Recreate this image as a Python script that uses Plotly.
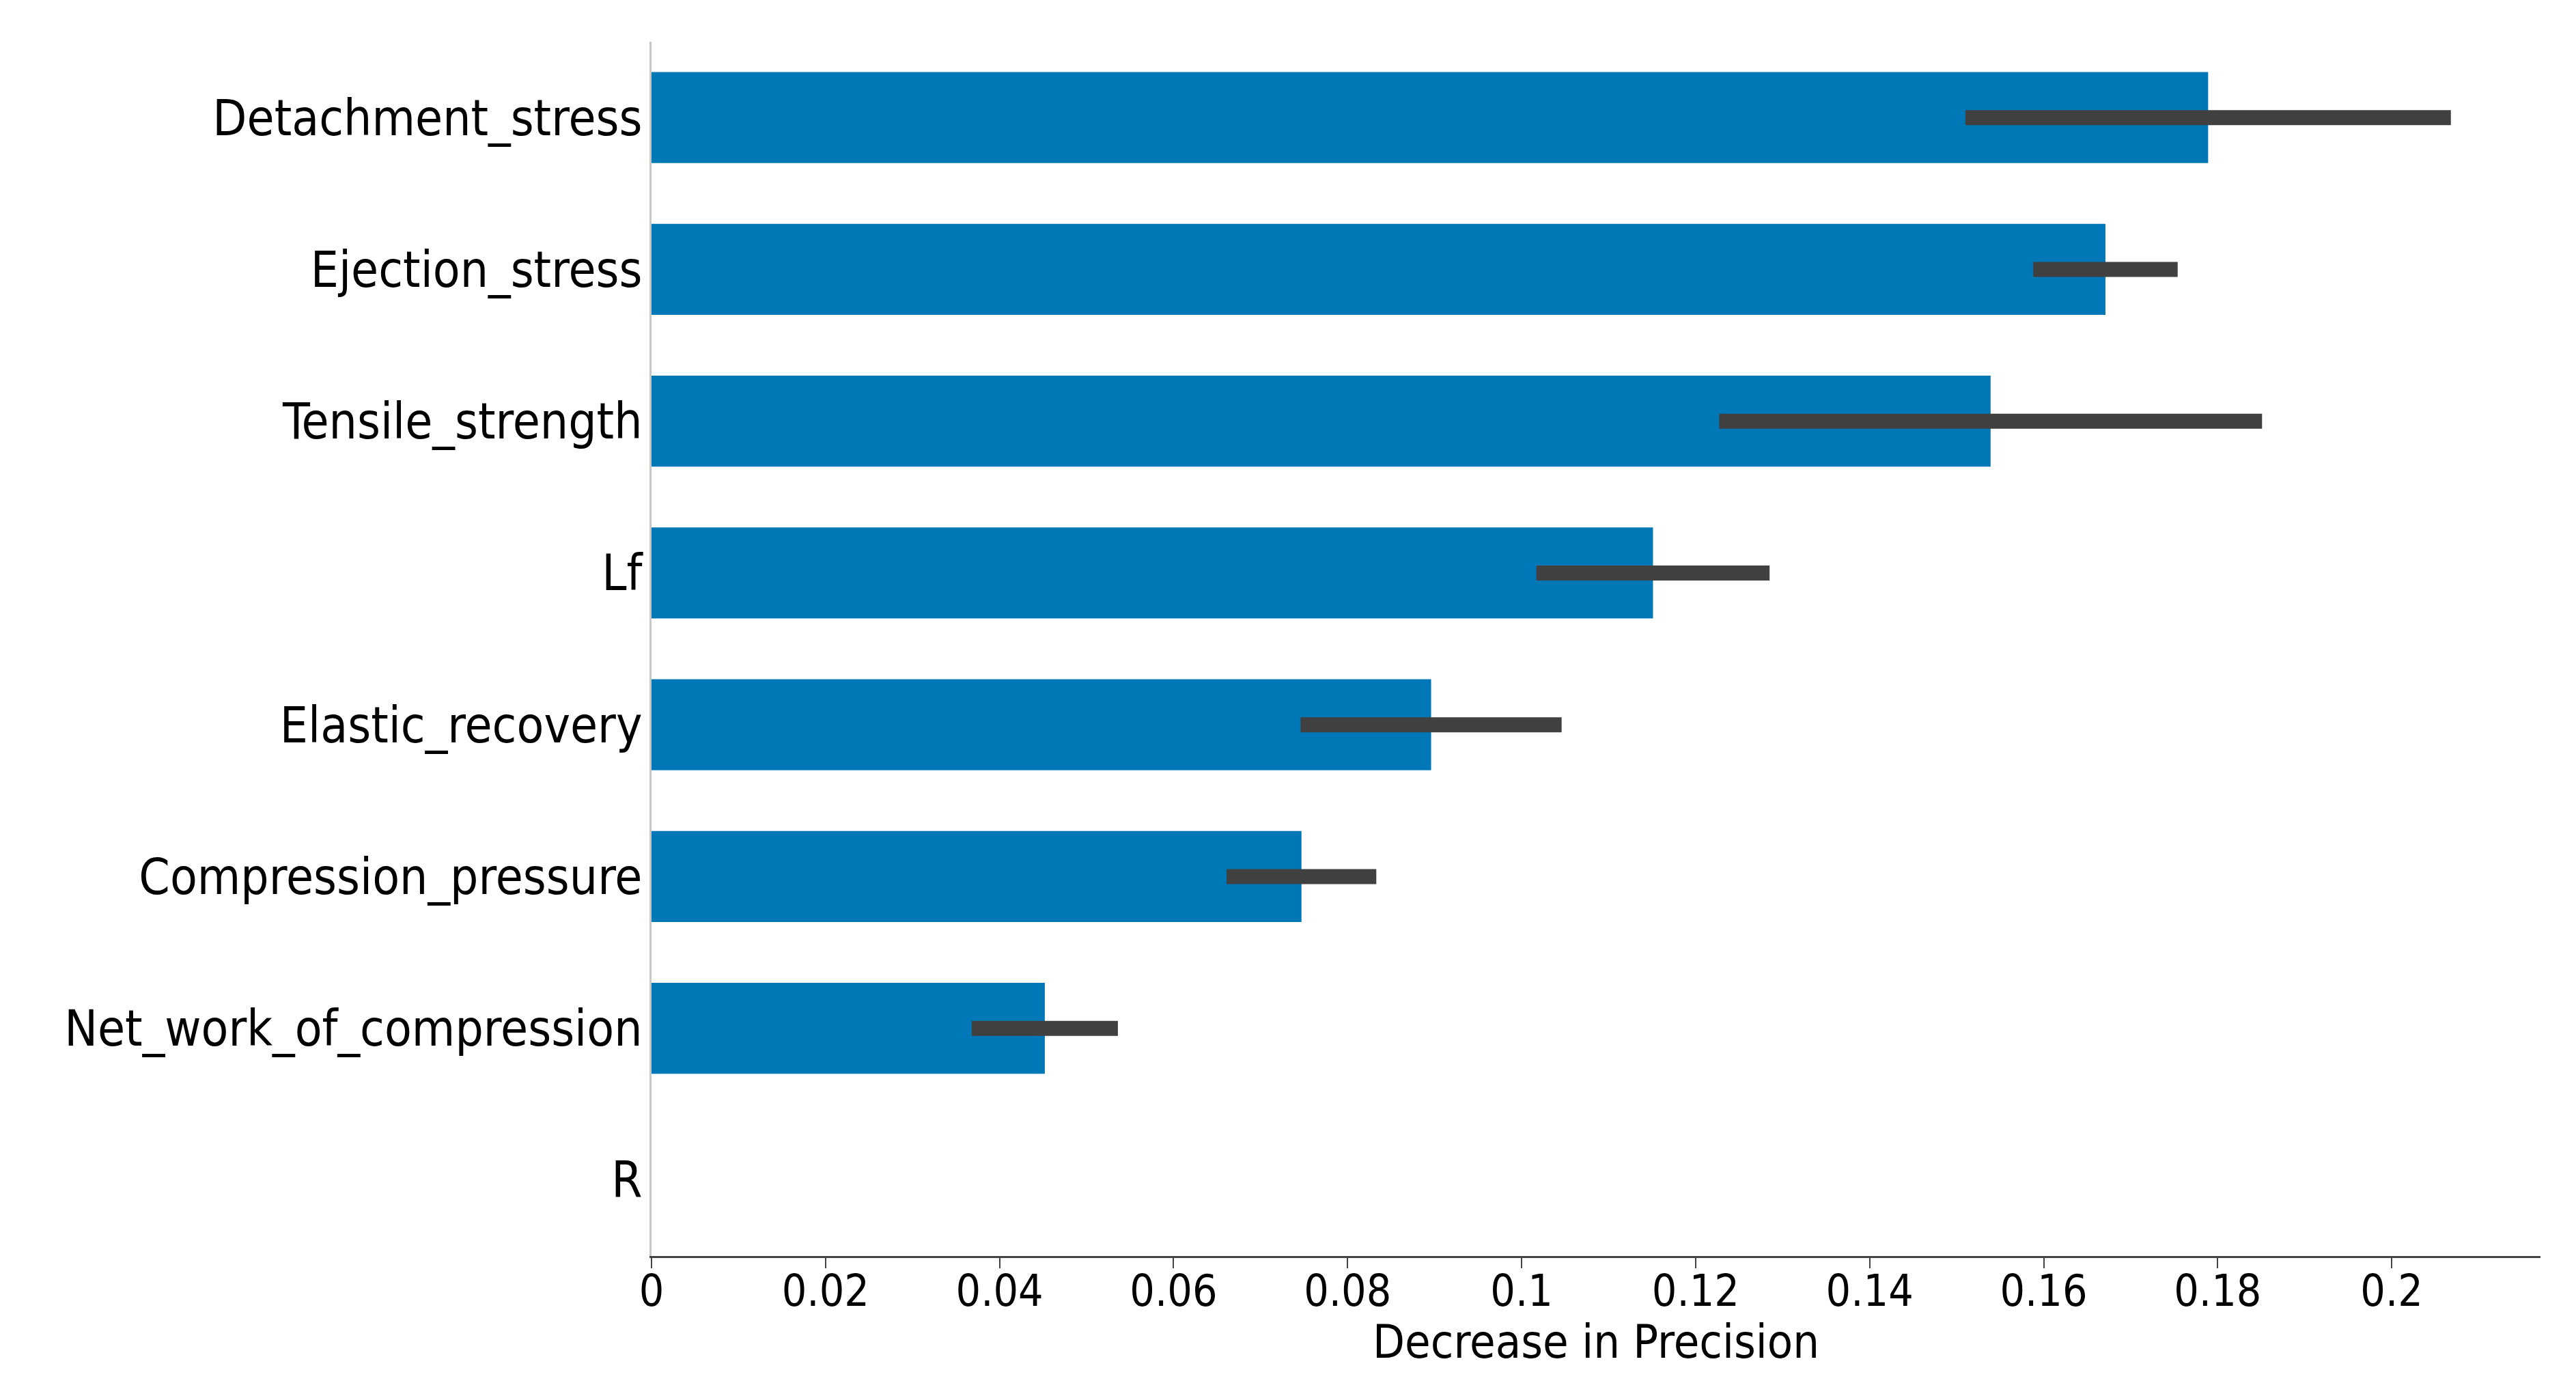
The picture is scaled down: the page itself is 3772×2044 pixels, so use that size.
import plotly.graph_objects as go

categories = ["Detachment_stress", "Ejection_stress", "Tensile_strength", "Lf",
              "Elastic_recovery", "Compression_pressure", "Net_work_of_compression", "R"]
importance = [0.1789, 0.1671, 0.1539, 0.1151, 0.0896, 0.0747, 0.0452, 0.0]
std_err = [0.0279, 0.0083, 0.0312, 0.0134, 0.0150, 0.0086, 0.0084, 0.0]
tick_vals = [0, 0.02, 0.04, 0.06, 0.08, 0.1, 0.12, 0.14, 0.16, 0.18, 0.2]
tick_text = ["0", "0.02", "0.04", "0.06", "0.08", "0.1", "0.12", "0.14", "0.16", "0.18", "0.2"]
x_title = "Decrease in Precision"

FONT = "DejaVu Sans Condensed, DejaVu Sans, sans-serif"

fig = go.Figure()
fig.add_trace(go.Bar(
    x=importance,
    y=categories,
    orientation="h",
    width=0.6,
    marker=dict(color="#0077b6", line=dict(width=0)),
    error_x=dict(type="data", array=std_err, symmetric=True,
                 color="#404040", thickness=22, width=0),
    showlegend=False,
))

fig.update_layout(
    width=3772, height=2044,
    paper_bgcolor="white", plot_bgcolor="white",
    margin=dict(l=946, r=60, t=53, b=213, autoexpand=False),
    font=dict(family=FONT, color="black", size=66),
)
fig.update_yaxes(
    categoryorder="array", categoryarray=categories[::-1],
    range=[-0.5, 7.5],
    showline=True, linecolor="#c8c8c8", linewidth=3,
    ticks="", showgrid=False, zeroline=False,
    tickfont=dict(size=72.5, family=FONT, color="black"),
    ticklabelstandoff=-4,
)
fig.update_xaxes(
    range=[0, 0.2171],
    tickvals=tick_vals, ticktext=tick_text,
    showline=True, linecolor="#444444", linewidth=3,
    ticks="outside", ticklen=15, tickwidth=2, tickcolor="#444444",
    showgrid=False, zeroline=False,
    tickfont=dict(size=64, family=FONT, color="black"),
    ticklabelstandoff=-22,
)
fig.add_annotation(
    text=x_title, xref="paper", yref="paper", x=0.5, y=-0.047,
    xanchor="center", yanchor="top", showarrow=False,
    font=dict(size=68, family=FONT, color="black"),
)

fig.write_html("out.html")
